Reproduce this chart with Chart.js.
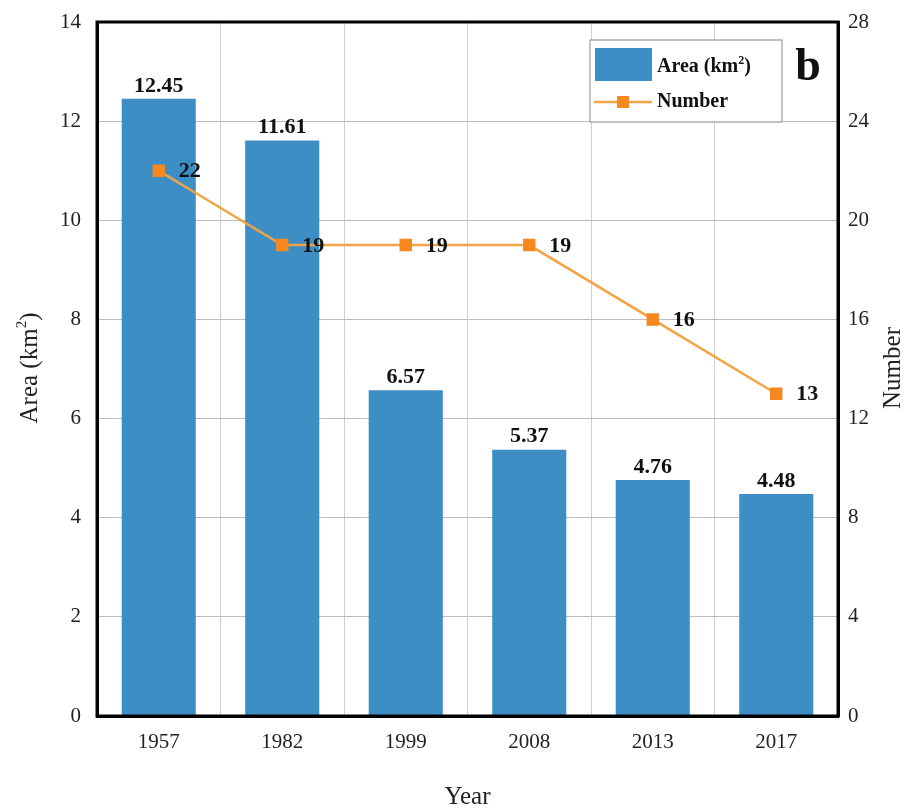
<!DOCTYPE html>
<html>
<head>
<meta charset="utf-8">
<script src="https://cdn.jsdelivr.net/npm/chart.js@4"></script>
<style>
  html, body { margin: 0; padding: 0; background: #fff; }
  #wrap { width: 914px; height: 812px; }
</style>
</head>
<body>
<div id="wrap"><canvas id="chart"></canvas></div>
<script>
// data
const years = ['1957', '1982', '1999', '2008', '2013', '2017'];
const areaKm2 = [12.45, 11.61, 6.57, 5.37, 4.76, 4.48];
const lakeCount = [22, 19, 19, 19, 16, 13];

const serif = '"Liberation Serif", "DejaVu Serif", serif';
const barColor = '#3e8ec6';
const lineColor = '#f2a444';
const markColor = '#f7871f';

// draw "base" + superscript "2" + ")" starting at x (left aligned)
function supText(ctx, x, y, size, bold, base) {
  const b = bold ? 'bold ' : '';
  ctx.font = b + size + 'px ' + serif;
  ctx.fillText(base, x, y);
  let w = ctx.measureText(base).width;
  ctx.font = b + Math.round(size * 0.6) + 'px ' + serif;
  ctx.fillText('2', x + w, y - size * 0.3);
  w += ctx.measureText('2').width;
  ctx.font = b + size + 'px ' + serif;
  ctx.fillText(')', x + w, y);
}
function supWidth(ctx, size, bold, base) {
  const b = bold ? 'bold ' : '';
  ctx.font = b + size + 'px ' + serif;
  let w = ctx.measureText(base).width + ctx.measureText(')').width;
  ctx.font = b + Math.round(size * 0.6) + 'px ' + serif;
  return w + ctx.measureText('2').width;
}

// labels above bars / right of points, frame, legend, panel letter
const decor = {
  id: 'decor',
  afterDatasetsDraw(chart) {
    const ctx = chart.ctx;
    const a = chart.chartArea;
    ctx.save();
    ctx.fillStyle = '#111';
    ctx.font = 'bold 22px ' + serif;
    ctx.textAlign = 'center';
    ctx.textBaseline = 'bottom';
    chart.getDatasetMeta(0).data.forEach((bar, i) => {
      ctx.fillText(areaKm2[i].toFixed(2), bar.x, bar.y - 2);
    });
    ctx.textAlign = 'left';
    ctx.textBaseline = 'middle';
    chart.getDatasetMeta(1).data.forEach((pt, i) => {
      ctx.fillText(String(lakeCount[i]), pt.x + 20, pt.y + 1);
    });

    // frame
    ctx.strokeStyle = '#000';
    ctx.lineWidth = 3;
    ctx.strokeRect(a.left, a.top, a.right - a.left, a.bottom - a.top);

    // legend
    const lx = 590, ly = 40, lw = 192, lh = 82;
    ctx.fillStyle = '#fff';
    ctx.fillRect(lx, ly, lw, lh);
    ctx.strokeStyle = '#888';
    ctx.lineWidth = 1;
    ctx.strokeRect(lx, ly, lw, lh);
    ctx.fillStyle = barColor;
    ctx.fillRect(lx + 5, ly + 8, 57, 33);
    ctx.fillStyle = '#111';
    ctx.textBaseline = 'middle';
    supText(ctx, lx + 67, ly + 27, 20, true, 'Area (km');
    ctx.strokeStyle = lineColor;
    ctx.lineWidth = 2.5;
    ctx.beginPath();
    ctx.moveTo(lx + 4, ly + 62);
    ctx.lineTo(lx + 62, ly + 62);
    ctx.stroke();
    ctx.fillStyle = markColor;
    ctx.fillRect(lx + 27, ly + 56, 12, 12);
    ctx.fillStyle = '#111';
    ctx.font = 'bold 20px ' + serif;
    ctx.fillText('Number', lx + 67, ly + 62);

    ctx.font = 'bold 46px ' + serif;
    ctx.textAlign = 'center';
    ctx.fillText('b', 808, ly + 28);

    // axis titles
    ctx.font = '25px ' + serif;
    ctx.fillStyle = '#222';
    ctx.textAlign = 'center';
    ctx.fillText('Year', (a.left + a.right) / 2, 797);
    ctx.save();
    ctx.translate(30, 368);
    ctx.rotate(-Math.PI / 2);
    ctx.textAlign = 'left';
    const tw = supWidth(ctx, 25, false, 'Area (km');
    supText(ctx, -tw / 2, 0, 25, false, 'Area (km');
    ctx.restore();
    ctx.save();
    ctx.translate(893, 368);
    ctx.rotate(-Math.PI / 2);
    ctx.textAlign = 'center';
    ctx.font = '25px ' + serif;
    ctx.fillText('Number', 0, 0);
    ctx.restore();
    ctx.restore();
  }
};

new Chart(document.getElementById('chart'), {
  data: {
    labels: years,
    datasets: [
      {
        type: 'bar',
        label: 'Area (km²)',
        data: areaKm2,
        backgroundColor: barColor,
        barPercentage: 0.6,
        categoryPercentage: 1,
        yAxisID: 'y',
        order: 2
      },
      {
        type: 'line',
        label: 'Number',
        data: lakeCount,
        borderColor: lineColor,
        borderWidth: 2.5,
        pointStyle: 'rect',
        pointRadius: 7,
        pointBackgroundColor: markColor,
        pointBorderColor: markColor,
        yAxisID: 'y1',
        order: 1
      }
    ]
  },
  plugins: [decor],
  options: {
    responsive: true,
    maintainAspectRatio: false,
    animation: false,
    layout: { padding: { top: 22, left: 0, right: 0, bottom: 0 } },
    plugins: { legend: { display: false }, tooltip: { enabled: false } },
    scales: {
      x: {
        grid: { offset: true, color: '#cfcfcf', drawTicks: false },
        border: { color: '#000', width: 3 },
        ticks: { color: '#222', font: { family: serif, size: 21 }, padding: 14 },
        afterFit(s) { s.height = 96; }
      },
      y: {
        position: 'left',
        min: 0, max: 14,
        ticks: { stepSize: 2, color: '#222', font: { family: serif, size: 21 }, padding: 16 },
        grid: { color: '#bdbdbd', drawTicks: false },
        border: { color: '#000', width: 3 },
        afterFit(s) { s.width = 97; s.paddingTop = 0; s.paddingBottom = 0; }
      },
      y1: {
        position: 'right',
        min: 0, max: 28,
        ticks: { stepSize: 4, color: '#222', font: { family: serif, size: 21 }, padding: 10 },
        grid: { drawOnChartArea: false, drawTicks: false },
        border: { color: '#000', width: 3 },
        afterFit(s) { s.width = 76; s.paddingTop = 0; s.paddingBottom = 0; }
      }
    }
  }
});
</script>
</body>
</html>
